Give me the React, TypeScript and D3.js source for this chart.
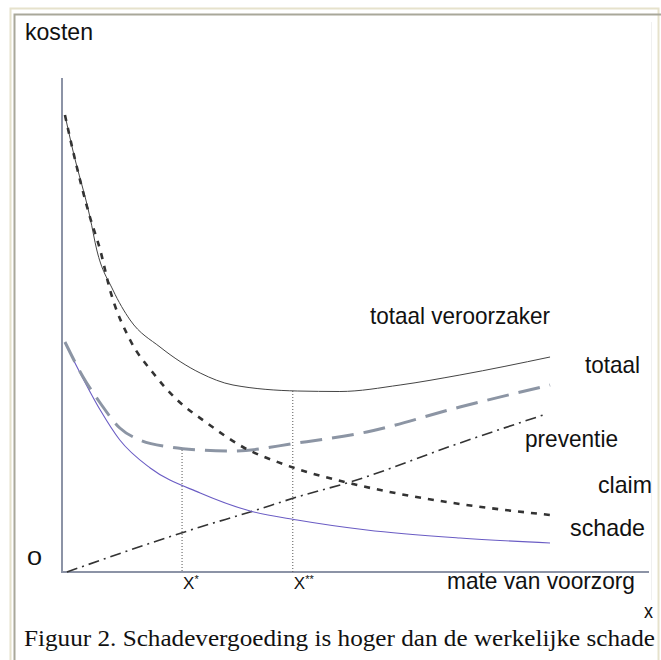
import React, { useEffect, useRef } from "react";
import * as d3 from "d3";

// curves (x: mate van voorzorg 0-100, y: kosten 0-100)
const totaalX = [0.6, 2.2, 5.7, 7.1, 10.4, 13.9, 20, 28.2, 34.9, 48, 56.7, 69, 81.2, 99.6];
const totaalY = [91.4, 84.4, 71, 64.4, 56.4, 50.4, 45, 39.8, 37.4, 36.2, 36.1, 37.4, 39.4, 43];

const claimX = [0.6, 2.2, 5.7, 7.8, 9.8, 13.9, 18.6, 23.1, 29.6, 36.9, 45.1, 59.4, 69, 81.2, 99.6];
const claimY = [91.4, 84.4, 71, 64.4, 56.4, 46.4, 39.8, 34.8, 29.8, 25, 21.6, 17.6, 15.6, 13.6, 11.4];

const schadeX = [0.6, 3.7, 7.8, 11.8, 18, 28.2, 38.4, 48, 62.2, 81.2, 99.6];
const schadeY = [45.8, 39.8, 32.4, 26.4, 20.8, 15.8, 12.2, 10.4, 8.4, 6.8, 5.8];

const veroorzakerX = [0.6, 4.3, 7.8, 11.8, 15.9, 22, 28.2, 34.9, 48, 62.2, 81.2, 99.6];
const veroorzakerY = [46, 39, 33.8, 28.8, 26.4, 25, 24.4, 24.2, 25.8, 28, 33, 37.4];

const preventieX = [1, 28.2, 38.4, 48, 58.8, 81.2, 98.2];
const preventieY = [0, 9, 12, 15, 18, 25.8, 31.4];

// optimum markers: x position and the height the dotted line reaches
const markerNames = ["X", "X"];
const markerStars = ["*", "**"];
const markerX = [24.5, 47.1];
const markerTop = [24.4, 36.2];

const labels = ["totaal veroorzaker", "totaal", "preventie", "claim", "schade"];

const sans = "'Liberation Sans', Arial, sans-serif";
const serif = "'Liberation Serif', 'Times New Roman', serif";

const zip = (xs: number[], ys: number[]) => xs.map((x, i) => [x, ys[i]] as [number, number]);

const App = () => {
  const ref = useRef<SVGSVGElement>(null);
  const width = 661;
  const height = 660;

  useEffect(() => {
    const svg = d3.select(ref.current);
    svg.selectAll("*").remove();

    const xScale = d3.scaleLinear().domain([0, 100]).range([62, 552]);
    const yScale = d3.scaleLinear().domain([0, 100]).range([572, 72]);

    // frame
    svg.append("rect")
      .attr("x", 10.5).attr("y", 8.5).attr("width", 648).attr("height", 700)
      .attr("fill", "none").attr("stroke", "#e6e2cc").attr("stroke-width", 2);
    svg.append("path")
      .attr("d", "M14.5,700 V14.5 H661")
      .attr("fill", "none").attr("stroke", "#a9a89a").attr("stroke-width", 2);
    svg.append("line")
      .attr("x1", 651.5).attr("x2", 651.5).attr("y1", 22).attr("y2", 600)
      .attr("stroke", "#f0f0f0").attr("stroke-width", 1);

    // axes
    svg.append("path")
      .attr("d", `M${xScale(0)},78 V${yScale(0)} H649`)
      .attr("fill", "none").attr("stroke", "#8c93a6").attr("stroke-width", 2);

    const line = d3.line<[number, number]>()
      .x((d) => xScale(d[0]))
      .y((d) => yScale(d[1]))
      .curve(d3.curveMonotoneX);

    // dotted markers
    markerX.forEach((mx, i) => {
      svg.append("line")
        .attr("x1", xScale(mx)).attr("x2", xScale(mx))
        .attr("y1", yScale(markerTop[i])).attr("y2", yScale(0))
        .attr("stroke", "#555").attr("stroke-width", 1).attr("stroke-dasharray", "1 2");
    });

    svg.append("path").datum(zip(preventieX, preventieY))
      .attr("fill", "none").attr("stroke", "#333").attr("stroke-width", 1.6)
      .attr("stroke-dasharray", "11 5 2 5").attr("d", line);

    svg.append("path").datum(zip(schadeX, schadeY))
      .attr("fill", "none").attr("stroke", "#6a5cc4").attr("stroke-width", 1.1).attr("d", line);

    svg.append("path").datum(zip(veroorzakerX, veroorzakerY))
      .attr("fill", "none").attr("stroke", "#8c95a4").attr("stroke-width", 3)
      .attr("stroke-dasharray", "22 10").attr("d", line);

    svg.append("path").datum(zip(totaalX, totaalY))
      .attr("fill", "none").attr("stroke", "#444").attr("stroke-width", 1).attr("d", line);

    svg.append("path").datum(zip(claimX, claimY))
      .attr("fill", "none").attr("stroke", "#333").attr("stroke-width", 2.6)
      .attr("stroke-dasharray", "6 7").attr("d", line);

    const text = (s: string, x: number, y: number, size: number, len: number, font = sans) =>
      svg.append("text")
        .attr("x", x).attr("y", y)
        .attr("font-family", font).attr("font-size", size).attr("fill", "#111")
        .attr("textLength", len).attr("lengthAdjust", "spacingAndGlyphs")
        .text(s);

    text("kosten", 25, 40, 24, 68);
    text("0", 27, 565, 20, 15);
    text("mate van voorzorg", 447, 589, 24, 188);
    text("x", 644, 618, 20, 9);

    // curve labels
    text(labels[0], 370, 324, 24, 180);
    text(labels[1], 585, 373, 24, 55);
    text(labels[2], 525, 447, 24, 93);
    text(labels[3], 598, 493, 24, 54);
    text(labels[4], 570, 536, 24, 75);

    markerX.forEach((mx, i) => {
      const t = svg.append("text")
        .attr("x", xScale(mx) + 1).attr("y", 589)
        .attr("font-family", sans).attr("font-size", 17).attr("fill", "#111");
      t.append("tspan").text(markerNames[i]);
      t.append("tspan").attr("font-size", 11).attr("dy", -6).text(markerStars[i]);
    });

    text("Figuur 2. Schadevergoeding is hoger dan de werkelijke schade", 24, 646, 22.5, 631, serif);
  }, []);

  return (
    <div style={{ position: "absolute", left: 0, top: 0 }}>
      <svg ref={ref} width={width} height={height} style={{ display: "block", background: "#fff" }}></svg>
    </div>
  );
};

export default App;
